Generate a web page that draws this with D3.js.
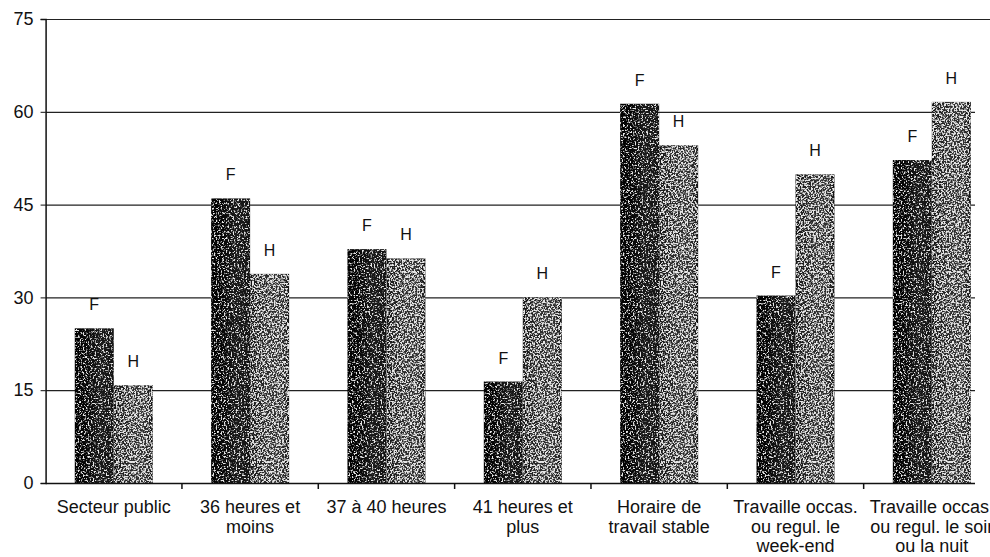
<!DOCTYPE html>
<html>
<head>
<meta charset="utf-8">
<script src="https://cdn.jsdelivr.net/npm/d3@7"></script>
<style>
  html, body { margin: 0; padding: 0; background: #fff; overflow: hidden; }
  svg { display: block; }
  text { font-family: "Liberation Sans", Arial, sans-serif; fill: #111; }
</style>
</head>
<body>
<svg id="chart" width="990" height="557"></svg>
<script>
// Category labels (one entry per line)
const categories = [
  ["Secteur public"],
  ["36 heures et", "moins"],
  ["37 à 40 heures"],
  ["41 heures et", "plus"],
  ["Horaire de", "travail stable"],
  ["Travaille occas.", "ou regul. le", "week-end"],
  ["Travaille occas.", "ou regul. le soir", "ou la nuit"]
];
const series = ["F", "H"];
const valuesF = [25, 46, 37.8, 16.4, 61.3, 30.3, 52.2];
const valuesH = [15.8, 33.8, 36.3, 30, 54.6, 49.9, 61.6];
const yTicks = [0, 15, 30, 45, 60, 75];

const svg = d3.select("#chart");
const plotLeft = 45.6, plotRight = 1000, plotTop = 19, plotBottom = 483;
const gridEnd = 975;

const ids = categories.map((c, i) => "c" + i);
const x0 = d3.scaleBand().domain(ids).range([plotLeft, plotRight])
  .paddingInner(0.428).paddingOuter(0.214);
const x1 = d3.scaleBand().domain(series).range([0, x0.bandwidth()]);
const y = d3.scaleLinear().domain([0, 75]).range([plotBottom, plotTop]);

// fills: dark base with light grain
const defs = svg.append("defs");
function grad(id, stops) {
  const g = defs.append("linearGradient").attr("id", id)
    .attr("x1", "0%").attr("x2", "100%").attr("y1", "0%").attr("y2", "0%");
  stops.forEach(s => g.append("stop").attr("offset", s[0]).attr("stop-color", s[1]));
}
grad("baseF", [["0%", "#000"], ["30%", "#060606"], ["65%", "#1a1a1a"], ["100%", "#121212"]]);
grad("baseH", [["0%", "#141414"], ["45%", "#2c2c2c"], ["80%", "#303030"], ["100%", "#121212"]]);

function grain(id, seed, k, b) {
  const f = defs.append("filter").attr("id", id)
    .attr("x", 0).attr("y", 0).attr("width", 1).attr("height", 1)
    .attr("color-interpolation-filters", "sRGB");
  f.append("feTurbulence").attr("type", "fractalNoise")
    .attr("baseFrequency", 0.6).attr("numOctaves", 2).attr("seed", seed).attr("result", "n");
  f.append("feColorMatrix").attr("in", "n").attr("type", "matrix")
    .attr("values", `0 0 0 0 0.9  0 0 0 0 0.9  0 0 0 0 0.9  ${k} 0 0 0 ${b}`)
    .attr("result", "speck");
  f.append("feComposite").attr("in", "speck").attr("in2", "SourceGraphic")
    .attr("operator", "in").attr("result", "s2");
  const m = f.append("feMerge");
  m.append("feMergeNode").attr("in", "SourceGraphic");
  m.append("feMergeNode").attr("in", "s2");
}
grain("grainF", 4, 6, -3.1);
grain("grainH", 9, 6, -2.6);

// horizontal grid lines
svg.append("g").selectAll("line").data(yTicks.filter(d => d > 0)).join("line")
  .attr("x1", plotLeft).attr("x2", d => d === 75 ? 990 : gridEnd)
  .attr("y1", d => y(d) + 0.5).attr("y2", d => y(d) + 0.5)
  .attr("stroke", "#222").attr("stroke-width", 1.2);

// y axis
const yAxis = svg.append("g").attr("transform", `translate(${plotLeft},0)`)
  .call(d3.axisLeft(y).tickValues(yTicks).tickSize(5).tickPadding(7));
yAxis.select(".domain").attr("stroke", "#111").attr("stroke-width", 1.5);
yAxis.selectAll(".tick line").attr("stroke", "#111");
yAxis.selectAll(".tick text").attr("font-size", 18)
  .style("font-family", '"Liberation Sans", Arial, sans-serif').attr("fill", "#111");

// bars
const data = categories.map((c, i) => ({ id: ids[i], F: valuesF[i], H: valuesH[i] }));
const groups = svg.append("g").selectAll("g").data(data).join("g")
  .attr("transform", d => `translate(${x0(d.id)},0)`);
groups.selectAll("rect").data(d => series.map(s => ({ s, v: d[s] }))).join("rect")
  .attr("x", d => x1(d.s)).attr("width", x1.bandwidth())
  .attr("y", d => y(d.v)).attr("height", d => y(0) - y(d.v))
  .attr("fill", d => `url(#base${d.s})`)
  .attr("filter", d => `url(#grain${d.s})`);

// series letters above bars
groups.selectAll("text.lbl").data(d => series.map(s => ({ s, v: d[s] }))).join("text")
  .attr("class", "lbl")
  .attr("x", d => x1(d.s) + x1.bandwidth() / 2)
  .attr("y", d => y(d.v) - 18)
  .attr("text-anchor", "middle").attr("font-size", 16)
  .text(d => d.s);

// x axis baseline and category separators
svg.append("line").attr("x1", plotLeft).attr("x2", gridEnd)
  .attr("y1", plotBottom + 0.5).attr("y2", plotBottom + 0.5)
  .attr("stroke", "#111").attr("stroke-width", 1.5);
const step = x0.step();
svg.append("g").selectAll("line").data(d3.range(1, categories.length)).join("line")
  .attr("x1", k => plotLeft + k * step).attr("x2", k => plotLeft + k * step)
  .attr("y1", plotBottom).attr("y2", plotBottom + 6)
  .attr("stroke", "#111").attr("stroke-width", 1.5);

// category labels
const lab = svg.append("g").selectAll("text").data(data).join("text")
  .attr("text-anchor", "middle").attr("font-size", 18)
  .attr("x", d => x0(d.id) + x0.bandwidth() / 2)
  .attr("y", 513);
lab.selectAll("tspan").data((d, i) => categories[i]).join("tspan")
  .attr("x", function () { return d3.select(this.parentNode).attr("x"); })
  .attr("dy", (t, j) => j === 0 ? 0 : 19.5)
  .text(t => t);
</script>
</body>
</html>
